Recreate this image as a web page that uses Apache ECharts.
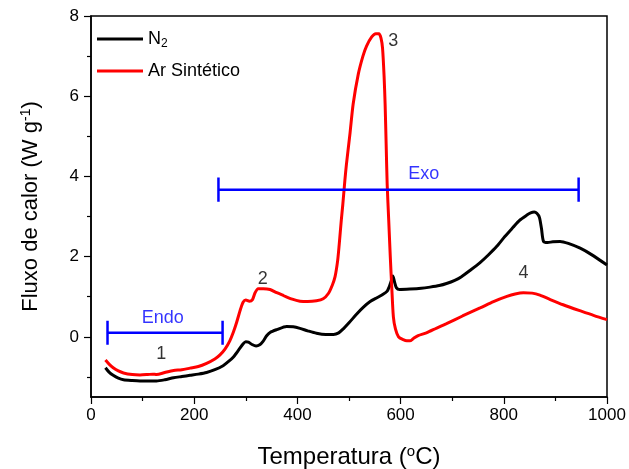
<!DOCTYPE html>
<html>
<head>
<meta charset="utf-8">
<script src="https://cdn.jsdelivr.net/npm/echarts@6/dist/echarts.min.js"></script>
<style>html,body{margin:0;padding:0;background:#fff}#c{width:629px;height:469px}</style>
</head>
<body>
<div id="c"></div>
<script>
// ---- data ----
const tempN2 = [28,35,43,53,63,80,95,110,127,143,160,176,192,208,224,240,256,266,276,286,295,300,305,312,320,327,333,340,347,360,379,392,405,420,437,455,470,480,489,500,515,528,541,555,566,574,578,582,585,588,592,598,618,640,657,675,689,705,718,735,754,770,786,802,818,830,844,852,859,864,869,873,877,885,895,909,925,948,970,1000];
const fluxN2 = [-0.77,-0.88,-0.96,-1.03,-1.07,-1.09,-1.10,-1.10,-1.10,-1.07,-1.02,-0.99,-0.96,-0.93,-0.89,-0.82,-0.72,-0.62,-0.50,-0.33,-0.17,-0.12,-0.13,-0.19,-0.23,-0.20,-0.12,0.02,0.11,0.18,0.26,0.25,0.21,0.15,0.09,0.06,0.06,0.10,0.20,0.35,0.57,0.74,0.88,0.98,1.06,1.14,1.25,1.40,1.52,1.38,1.22,1.18,1.19,1.21,1.24,1.28,1.33,1.41,1.50,1.66,1.85,2.04,2.25,2.50,2.73,2.90,3.03,3.09,3.11,3.08,2.98,2.70,2.38,2.35,2.37,2.38,2.33,2.21,2.05,1.79];
const tempAr = [28,35,43,53,63,80,95,110,120,127,143,160,176,192,208,224,240,250,260,269,276,282,290,295,300,307,313,318,324,334,347,360,373,390,405,420,437,450,460,468,473,478,481,485,488,492,495,502,508,518,527,534,544,552,558,562,565,568,570,572,574,577,580,583,586,590,596,605,612,618,625,634,650,670,689,720,754,780,806,822,838,855,870,890,915,950,975,1000];
const fluxAr = [-0.58,-0.68,-0.77,-0.85,-0.90,-0.94,-0.95,-0.94,-0.93,-0.94,-0.89,-0.84,-0.82,-0.78,-0.74,-0.66,-0.55,-0.45,-0.30,-0.10,0.12,0.35,0.70,0.87,0.92,0.89,0.93,1.10,1.20,1.20,1.18,1.10,1.03,0.94,0.89,0.88,0.90,0.95,1.08,1.30,1.50,1.90,2.30,2.90,3.30,3.90,4.30,5.08,5.80,6.55,7.00,7.25,7.48,7.56,7.56,7.45,7.20,6.50,5.80,4.80,3.80,2.90,2.00,1.20,0.50,0.20,0.00,-0.07,-0.10,-0.10,-0.04,0.03,0.10,0.22,0.33,0.52,0.72,0.88,1.01,1.07,1.10,1.09,1.04,0.93,0.80,0.64,0.53,0.43];
const seriesNames = ['N2', 'Ar Sintético'];
// ranges (Endo / Exo): [start, end, level]
const endoRange = [32, 255, 0.1];
const exoRange = [247, 945, 3.67];
const capHalf = 0.3;
// annotation labels
const annotText = ['Endo', '1', '2', '3', '4', 'Exo'];
const annotX = [139, 136, 333, 586, 838, 645];
const annotY = [0.47, -0.43, 1.43, 7.38, 1.6, 4.06];
const annotBlue = [true, false, false, false, false, true];
// axis ticks
const yMajor = [0, 2, 4, 6, 8];
const yMinor = [-1, 1, 3, 5, 7];

// ---- build ----
const zip = (a, b) => a.map((v, i) => [v, b[i]]);
const bracket = r => [[r[0], r[2] - capHalf], [r[0], r[2] + capHalf], [r[0], r[2]], [r[1], r[2]], [r[1], r[2] + capHalf], [r[1], r[2] - capHalf]];
const FONT = 'Liberation Sans, Arial, Helvetica, sans-serif';

const chart = echarts.init(document.getElementById('c'), null, {renderer: 'canvas'});
chart.setOption({
  animation: false,
  backgroundColor: '#fff',
  textStyle: {fontFamily: FONT},
  grid: {left: 91, right: 22, top: 16, bottom: 72, show: true, borderColor: '#000', borderWidth: 1.5,
         backgroundColor: 'transparent', outerBoundsMode: 'none', containLabel: false},
  legend: {
    data: seriesNames.map(n => ({name: n, icon: 'rect'})),
    orient: 'vertical', left: 92, top: 24, itemWidth: 46, itemHeight: 3, itemGap: 11,
    textStyle: {fontSize: 18, color: '#000', lineHeight: 20, fontFamily: FONT,
      rich: {n: {fontSize: 18, color: '#000', fontFamily: FONT}, s: {fontSize: 12, color: '#000', fontFamily: FONT, padding: [10, 0, 0, 0]}}},
    formatter: n => n === 'N2' ? '{n|N}{s|2}' : '{n|' + n + '}'
  },
  xAxis: {
    type: 'value', min: 0, max: 1000, interval: 200,
    name: 'Temperatura ({s|o}C)', nameLocation: 'middle', nameGap: 47,
    nameTextStyle: {fontSize: 24, color: '#000', fontFamily: FONT,
      rich: {s: {fontSize: 15, color: '#000', fontFamily: FONT, padding: [0, 0, 11, 0]}}},
    axisLine: {onZero: false, lineStyle: {color: '#000', width: 1.5}},
    axisTick: {length: 7, lineStyle: {color: '#000', width: 1.2}},
    minorTick: {show: true, splitNumber: 2, length: 4, lineStyle: {color: '#000', width: 1.2}},
    axisLabel: {fontSize: 17, color: '#000', margin: 10, fontFamily: FONT, formatter: v => String(v)},
    splitLine: {show: false}
  },
  yAxis: [{
    type: 'value', min: -1.5, max: 8,
    name: 'Fluxo de calor (W g{s|-1})', nameLocation: 'middle', nameGap: 48, nameRotate: 90,
    nameTextStyle: {fontSize: 22, color: '#000', fontFamily: FONT,
      rich: {s: {fontSize: 14, color: '#000', fontFamily: FONT, padding: [0, 0, 10, 0]}}},
    axisLine: {show: true, onZero: false, lineStyle: {color: '#000', width: 1.5}},
    axisTick: {show: true, length: 7, customValues: yMajor, lineStyle: {color: '#000', width: 1.2}},
    axisLabel: {customValues: yMajor, fontSize: 17, color: '#000', margin: 12, fontFamily: FONT},
    splitLine: {show: false}
  }, {
    type: 'value', min: -1.5, max: 8, position: 'left',
    axisLine: {show: false, onZero: false},
    axisTick: {show: true, length: 4, customValues: yMinor, lineStyle: {color: '#000', width: 1.2}},
    axisLabel: {show: false},
    splitLine: {show: false}
  }],
  series: [
    {name: 'N2', type: 'line', data: zip(tempN2, fluxN2), showSymbol: false, smooth: 0.25,
     lineStyle: {color: '#000', width: 3}, itemStyle: {color: '#000'}, z: 3},
    {name: 'Ar Sintético', type: 'line', data: zip(tempAr, fluxAr), showSymbol: false, smooth: 0.25,
     lineStyle: {color: '#ff0000', width: 3}, itemStyle: {color: '#ff0000'}, z: 4},
    {name: 'endo', type: 'line', data: bracket(endoRange), showSymbol: false,
     lineStyle: {color: '#0000ff', width: 2.5}, z: 5},
    {name: 'exo', type: 'line', data: bracket(exoRange), showSymbol: false,
     lineStyle: {color: '#0000ff', width: 2.5}, z: 5},
    {name: 'labels', type: 'scatter', symbolSize: 0, z: 6,
     data: annotText.map((t, i) => ({
       value: [annotX[i], annotY[i]],
       label: {show: true, position: 'inside', formatter: t, fontSize: 18, fontFamily: FONT,
               color: annotBlue[i] ? '#0000ff' : '#000'}
     }))}
  ]
});
</script>
</body>
</html>
